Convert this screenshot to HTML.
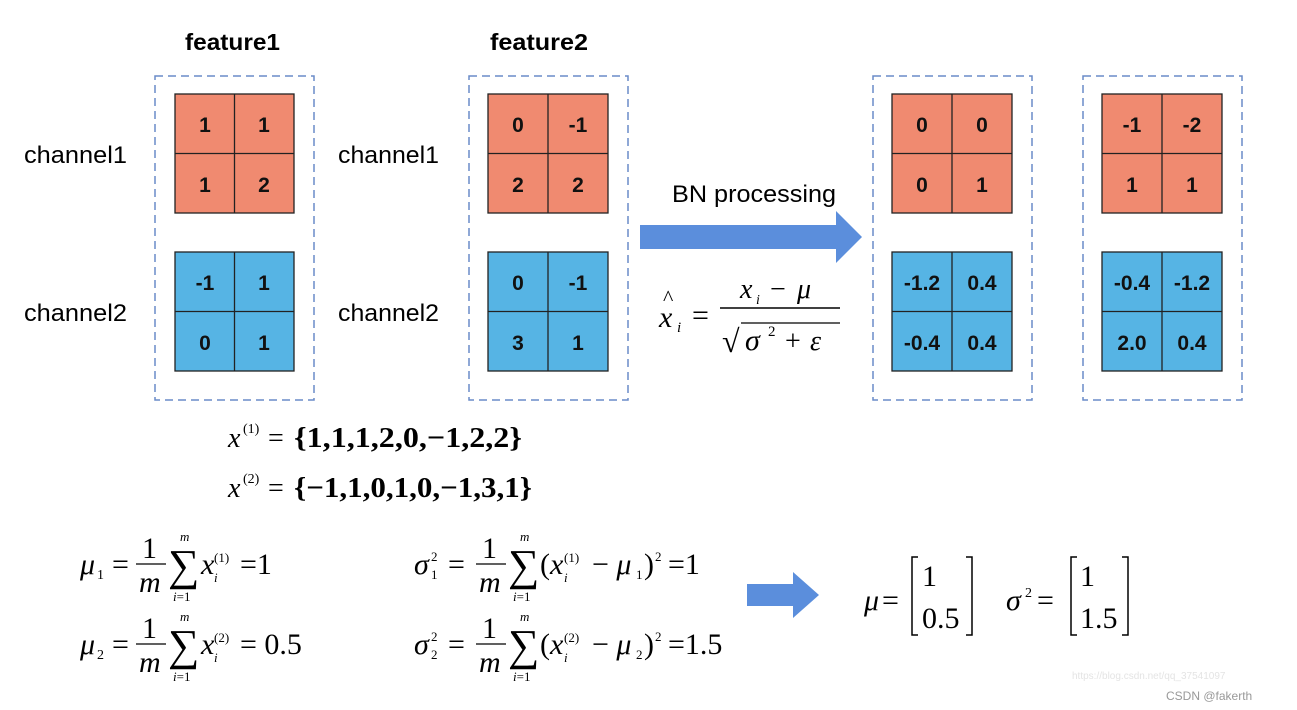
<!DOCTYPE html>
<html><head><meta charset="utf-8"><style>
html,body{margin:0;padding:0;background:#fff;}
svg{display:block;}
.lab{font-family:"Liberation Sans",sans-serif;font-size:24px;fill:#000;}
.hd{font-family:"Liberation Sans",sans-serif;font-size:23px;font-weight:bold;fill:#000;}
.c{font-family:"Liberation Sans",sans-serif;font-size:21px;font-weight:bold;fill:#111;text-anchor:middle;}
.m{font-family:"Liberation Serif",serif;fill:#000;}
.i{font-style:italic;}
</style></head><body>
<svg width="1297" height="710" viewBox="0 0 1297 710" xmlns="http://www.w3.org/2000/svg">
<text class="hd" x="185" y="50" textLength="95" lengthAdjust="spacingAndGlyphs">feature1</text>
<text class="hd" x="490" y="50" textLength="98" lengthAdjust="spacingAndGlyphs">feature2</text>
<text class="lab" x="24" y="163" textLength="103" lengthAdjust="spacingAndGlyphs">channel1</text>
<text class="lab" x="24" y="321" textLength="103" lengthAdjust="spacingAndGlyphs">channel2</text>
<text class="lab" x="338" y="163" textLength="101" lengthAdjust="spacingAndGlyphs">channel1</text>
<text class="lab" x="338" y="321" textLength="101" lengthAdjust="spacingAndGlyphs">channel2</text>

<g fill="none" stroke="#6a8cc8" stroke-width="1.5" stroke-dasharray="8,5">
<rect x="155" y="76" width="159" height="324"/>
<rect x="469" y="76" width="159" height="324"/>
<rect x="873" y="76" width="159" height="324"/>
<rect x="1083" y="76" width="159" height="324"/>
</g>

<g stroke="#222" stroke-width="1.3">
<rect x="175" y="94" width="119" height="119" fill="#F08A70"/><line x1="234.5" y1="94" x2="234.5" y2="213"/><line x1="175" y1="153.5" x2="294" y2="153.5"/>
<rect x="175" y="252" width="119" height="119" fill="#56B4E4"/><line x1="234.5" y1="252" x2="234.5" y2="371"/><line x1="175" y1="311.5" x2="294" y2="311.5"/>
<rect x="488" y="94" width="120" height="119" fill="#F08A70"/><line x1="548" y1="94" x2="548" y2="213"/><line x1="488" y1="153.5" x2="608" y2="153.5"/>
<rect x="488" y="252" width="120" height="119" fill="#56B4E4"/><line x1="548" y1="252" x2="548" y2="371"/><line x1="488" y1="311.5" x2="608" y2="311.5"/>
<rect x="892" y="94" width="120" height="119" fill="#F08A70"/><line x1="952" y1="94" x2="952" y2="213"/><line x1="892" y1="153.5" x2="1012" y2="153.5"/>
<rect x="892" y="252" width="120" height="119" fill="#56B4E4"/><line x1="952" y1="252" x2="952" y2="371"/><line x1="892" y1="311.5" x2="1012" y2="311.5"/>
<rect x="1102" y="94" width="120" height="119" fill="#F08A70"/><line x1="1162" y1="94" x2="1162" y2="213"/><line x1="1102" y1="153.5" x2="1222" y2="153.5"/>
<rect x="1102" y="252" width="120" height="119" fill="#56B4E4"/><line x1="1162" y1="252" x2="1162" y2="371"/><line x1="1102" y1="311.5" x2="1222" y2="311.5"/>
</g>

<g class="c">
<text x="205" y="132">1</text><text x="264" y="132">1</text><text x="205" y="192">1</text><text x="264" y="192">2</text>
<text x="205" y="290">-1</text><text x="264" y="290">1</text><text x="205" y="350">0</text><text x="264" y="350">1</text>
<text x="518" y="132">0</text><text x="578" y="132">-1</text><text x="518" y="192">2</text><text x="578" y="192">2</text>
<text x="518" y="290">0</text><text x="578" y="290">-1</text><text x="518" y="350">3</text><text x="578" y="350">1</text>
<text x="922" y="132">0</text><text x="982" y="132">0</text><text x="922" y="192">0</text><text x="982" y="192">1</text>
<text x="922" y="290">-1.2</text><text x="982" y="290">0.4</text><text x="922" y="350">-0.4</text><text x="982" y="350">0.4</text>
<text x="1132" y="132">-1</text><text x="1192" y="132">-2</text><text x="1132" y="192">1</text><text x="1192" y="192">1</text>
<text x="1132" y="290">-0.4</text><text x="1192" y="290">-1.2</text><text x="1132" y="350">2.0</text><text x="1192" y="350">0.4</text>
</g>

<text class="lab" x="672" y="202" textLength="164" lengthAdjust="spacingAndGlyphs">BN processing</text>
<polygon points="640,225 836,225 836,211 862,237 836,263 836,249 640,249" fill="#5B8EDC"/>
<polygon points="747,584 793,584 793,572 819,595 793,618 793,606 747,606" fill="#5B8EDC"/>

<g class="m">
<text x="659" y="327" font-size="30" class="i">x</text>
<text x="663" y="305" font-size="22">^</text>
<text x="677" y="332" font-size="15" class="i">i</text>
<text x="692" y="325" font-size="30">=</text>
<text x="740" y="298" font-size="28" class="i">x</text>
<text x="756" y="304" font-size="14" class="i">i</text>
<text x="770" y="298" font-size="28">− </text>
<text x="797" y="298" font-size="28" class="i">μ</text>
<line x1="720" y1="308" x2="840" y2="308" stroke="#000" stroke-width="1.5"/>
<text x="722" y="352" font-size="32">√</text>
<line x1="741" y1="323" x2="840" y2="323" stroke="#000" stroke-width="1.3"/>
<text x="745" y="350" font-size="30" class="i">σ</text>
<text x="768" y="336" font-size="15">2</text>
<text x="785" y="350" font-size="28">+</text>
<text x="810" y="350" font-size="28" class="i">ε</text>
</g>

<g class="m">
<text x="228" y="447" font-size="28" class="i">x</text><text x="243" y="433" font-size="14">(1)</text>
<text x="268" y="447" font-size="28">=</text><text x="294" y="447" font-size="29" font-weight="bold" textLength="228" lengthAdjust="spacingAndGlyphs">{1,1,1,2,0,−1,2,2}</text>
<text x="228" y="497" font-size="28" class="i">x</text><text x="243" y="483" font-size="14">(2)</text>
<text x="268" y="497" font-size="28">=</text><text x="294" y="497" font-size="29" font-weight="bold" textLength="238" lengthAdjust="spacingAndGlyphs">{−1,1,0,1,0,−1,3,1}</text>
</g>

<g class="m">
<text x="80" y="574" font-size="30" class="i">μ</text><text x="97" y="579" font-size="14">1</text>
<text x="112" y="574" font-size="30">=</text>
<text x="142" y="558" font-size="30">1</text><line x1="136" y1="564" x2="166" y2="564" stroke="#000" stroke-width="1.3"/>
<text x="139" y="592" font-size="30" class="i">m</text>
<text x="168" y="580" font-size="44">∑</text>
<text x="180" y="541" font-size="13" class="i">m</text>
<text x="173" y="601" font-size="13"><tspan class="i">i</tspan>=1</text>
<text x="201" y="574" font-size="30" class="i">x</text><text x="214" y="582" font-size="13" class="i">i</text><text x="214" y="562" font-size="13">(1)</text>
<text x="240" y="574" font-size="30">=1</text>

<text x="80" y="654" font-size="30" class="i">μ</text><text x="97" y="659" font-size="14">2</text>
<text x="112" y="654" font-size="30">=</text>
<text x="142" y="638" font-size="30">1</text><line x1="136" y1="644" x2="166" y2="644" stroke="#000" stroke-width="1.3"/>
<text x="139" y="672" font-size="30" class="i">m</text>
<text x="168" y="660" font-size="44">∑</text>
<text x="180" y="621" font-size="13" class="i">m</text>
<text x="173" y="681" font-size="13"><tspan class="i">i</tspan>=1</text>
<text x="201" y="654" font-size="30" class="i">x</text><text x="214" y="662" font-size="13" class="i">i</text><text x="214" y="642" font-size="13">(2)</text>
<text x="240" y="654" font-size="30">= 0.5</text>

<text x="414" y="574" font-size="30" class="i">σ</text><text x="431" y="579" font-size="13">1</text><text x="431" y="561" font-size="13">2</text>
<text x="448" y="574" font-size="30">=</text>
<text x="482" y="558" font-size="30">1</text><line x1="476" y1="564" x2="506" y2="564" stroke="#000" stroke-width="1.3"/>
<text x="479" y="592" font-size="30" class="i">m</text>
<text x="508" y="580" font-size="44">∑</text>
<text x="520" y="541" font-size="13" class="i">m</text>
<text x="513" y="601" font-size="13"><tspan class="i">i</tspan>=1</text>
<text x="540" y="574" font-size="30">(<tspan class="i">x</tspan></text><text x="564" y="582" font-size="13" class="i">i</text><text x="564" y="562" font-size="13">(1)</text>
<text x="592" y="574" font-size="30">− <tspan class="i">μ</tspan></text><text x="636" y="579" font-size="13">1</text><text x="644" y="574" font-size="30">)</text><text x="655" y="561" font-size="13">2</text>
<text x="668" y="574" font-size="30">=1</text>

<text x="414" y="654" font-size="30" class="i">σ</text><text x="431" y="659" font-size="13">2</text><text x="431" y="641" font-size="13">2</text>
<text x="448" y="654" font-size="30">=</text>
<text x="482" y="638" font-size="30">1</text><line x1="476" y1="644" x2="506" y2="644" stroke="#000" stroke-width="1.3"/>
<text x="479" y="672" font-size="30" class="i">m</text>
<text x="508" y="660" font-size="44">∑</text>
<text x="520" y="621" font-size="13" class="i">m</text>
<text x="513" y="681" font-size="13"><tspan class="i">i</tspan>=1</text>
<text x="540" y="654" font-size="30">(<tspan class="i">x</tspan></text><text x="564" y="662" font-size="13" class="i">i</text><text x="564" y="642" font-size="13">(2)</text>
<text x="592" y="654" font-size="30">− <tspan class="i">μ</tspan></text><text x="636" y="659" font-size="13">2</text><text x="644" y="654" font-size="30">)</text><text x="655" y="641" font-size="13">2</text>
<text x="668" y="654" font-size="30">=1.5</text>

<text x="864" y="610" font-size="30" class="i">μ</text>
<text x="882" y="610" font-size="30">=</text>
<path d="M918,557 H912 V635 H918 M966,557 H972 V635 H966" fill="none" stroke="#000" stroke-width="1.5"/>
<text x="922" y="586" font-size="30">1</text>
<text x="922" y="628" font-size="30">0.5</text>
<text x="1006" y="610" font-size="30" class="i">σ</text><text x="1025" y="597" font-size="14">2</text>
<text x="1037" y="610" font-size="30">=</text>
<path d="M1077,557 H1071 V635 H1077 M1122,557 H1128 V635 H1122" fill="none" stroke="#000" stroke-width="1.5"/>
<text x="1080" y="586" font-size="30">1</text>
<text x="1080" y="628" font-size="30">1.5</text>
</g>
<text x="1072" y="679" font-family="Liberation Sans,sans-serif" font-size="10" fill="#e4e4e4">https://blog.csdn.net/qq_37541097</text>
<text x="1166" y="700" font-family="Liberation Sans,sans-serif" font-size="12" fill="#999">CSDN @fakerth</text>
</svg>
</body></html>
